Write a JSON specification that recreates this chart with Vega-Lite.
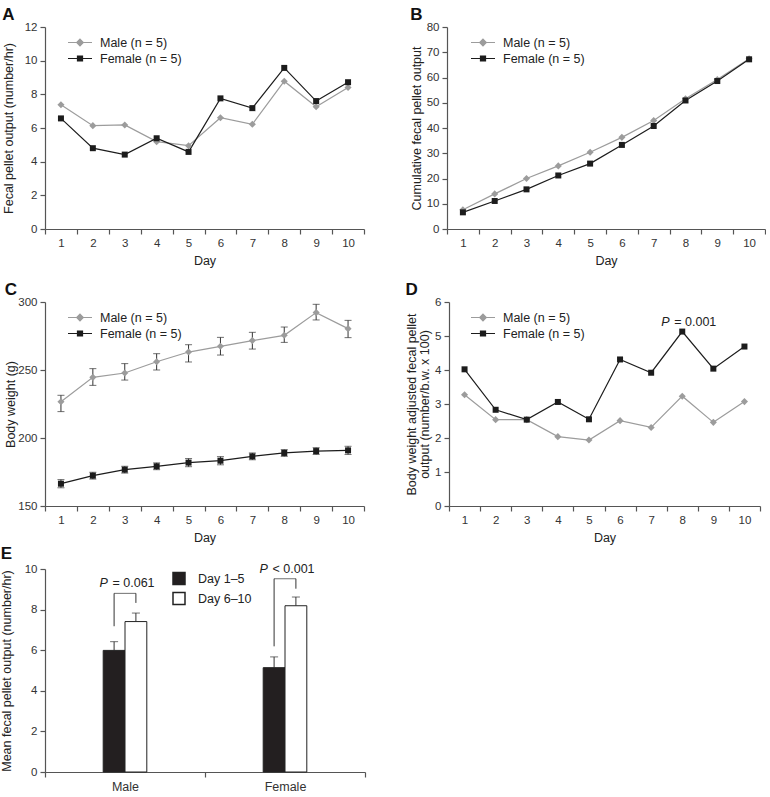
{
  "$schema": "https://vega.github.io/schema/vega-lite/v6.json",
  "padding": {"left": 0, "top": 6, "right": 0, "bottom": 0},
  "background": "white",
  "config": {
    "font": "Liberation Sans",
    "view": {"stroke": null},
    "axis": {"grid": false, "domainColor": "#555", "tickColor": "#555", "labelColor": "#333", "titleColor": "#222", "tickSize": 5, "labelFontSize": 11.5, "titleFontSize": 12.5, "titleFontWeight": "normal", "labelPadding": 3, "domainWidth": 1.2, "tickWidth": 1.2, "labelOverlap": false, "titlePadding": 3},
    "title": {"fontSize": 17, "fontWeight": "bold", "anchor": "start", "frame": "bounds", "color": "#111", "offset": -3},
    "legend": {"labelFontSize": 12.5, "labelColor": "#222", "padding": 0, "rowPadding": 2, "symbolSize": 144}
  },
  "resolve": {"scale": {"color": "independent", "fill": "independent"}, "legend": {"color": "independent", "fill": "independent"}},
  "datasets": {
    "A": [
      {"day": 1, "sex": "Male", "value": 7.38}, {"day": 2, "sex": "Male", "value": 6.14}, {"day": 3, "sex": "Male", "value": 6.18}, {"day": 4, "sex": "Male", "value": 5.19}, {"day": 5, "sex": "Male", "value": 4.95},
      {"day": 6, "sex": "Male", "value": 6.61}, {"day": 7, "sex": "Male", "value": 6.22}, {"day": 8, "sex": "Male", "value": 8.78}, {"day": 9, "sex": "Male", "value": 7.26}, {"day": 10, "sex": "Male", "value": 8.41},
      {"day": 1, "sex": "Female", "value": 6.57}, {"day": 2, "sex": "Female", "value": 4.8}, {"day": 3, "sex": "Female", "value": 4.42}, {"day": 4, "sex": "Female", "value": 5.39}, {"day": 5, "sex": "Female", "value": 4.58},
      {"day": 6, "sex": "Female", "value": 7.76}, {"day": 7, "sex": "Female", "value": 7.18}, {"day": 8, "sex": "Female", "value": 9.57}, {"day": 9, "sex": "Female", "value": 7.6}, {"day": 10, "sex": "Female", "value": 8.72}
    ],
    "B": [
      {"day": 1, "sex": "Male", "value": 7.6}, {"day": 2, "sex": "Male", "value": 13.9}, {"day": 3, "sex": "Male", "value": 20.0}, {"day": 4, "sex": "Male", "value": 25.0}, {"day": 5, "sex": "Male", "value": 30.4},
      {"day": 6, "sex": "Male", "value": 36.3}, {"day": 7, "sex": "Male", "value": 43.0}, {"day": 8, "sex": "Male", "value": 51.6}, {"day": 9, "sex": "Male", "value": 59.2}, {"day": 10, "sex": "Male", "value": 67.4},
      {"day": 1, "sex": "Female", "value": 6.6}, {"day": 2, "sex": "Female", "value": 11.1}, {"day": 3, "sex": "Female", "value": 15.7}, {"day": 4, "sex": "Female", "value": 21.2}, {"day": 5, "sex": "Female", "value": 25.9},
      {"day": 6, "sex": "Female", "value": 33.3}, {"day": 7, "sex": "Female", "value": 40.8}, {"day": 8, "sex": "Female", "value": 50.9}, {"day": 9, "sex": "Female", "value": 58.6}, {"day": 10, "sex": "Female", "value": 67.2}
    ],
    "C": [
      {"day": 1, "sex": "Male", "value": 226.7, "lo": 219.4, "hi": 231.4}, {"day": 2, "sex": "Male", "value": 244.6, "lo": 238.7, "hi": 251.0}, {"day": 3, "sex": "Male", "value": 247.8, "lo": 242.6, "hi": 254.7},
      {"day": 4, "sex": "Male", "value": 256.1, "lo": 250.0, "hi": 262.0}, {"day": 5, "sex": "Male", "value": 263.2, "lo": 255.9, "hi": 268.6}, {"day": 6, "sex": "Male", "value": 267.4, "lo": 261.0, "hi": 274.0},
      {"day": 7, "sex": "Male", "value": 271.6, "lo": 265.4, "hi": 277.7}, {"day": 8, "sex": "Male", "value": 275.5, "lo": 270.3, "hi": 281.6}, {"day": 9, "sex": "Male", "value": 292.2, "lo": 286.8, "hi": 298.3},
      {"day": 10, "sex": "Male", "value": 280.4, "lo": 273.8, "hi": 286.5},
      {"day": 1, "sex": "Female", "value": 166.4, "lo": 163.4, "hi": 169.4}, {"day": 2, "sex": "Female", "value": 172.3, "lo": 169.8, "hi": 174.8}, {"day": 3, "sex": "Female", "value": 176.7, "lo": 174.2, "hi": 179.2},
      {"day": 4, "sex": "Female", "value": 179.2, "lo": 176.7, "hi": 181.7}, {"day": 5, "sex": "Female", "value": 181.9, "lo": 178.9, "hi": 184.9}, {"day": 6, "sex": "Female", "value": 183.3, "lo": 180.3, "hi": 186.3},
      {"day": 7, "sex": "Female", "value": 186.5, "lo": 184.0, "hi": 189.0}, {"day": 8, "sex": "Female", "value": 189.0, "lo": 186.5, "hi": 191.5}, {"day": 9, "sex": "Female", "value": 190.4, "lo": 187.9, "hi": 192.9},
      {"day": 10, "sex": "Female", "value": 190.9, "lo": 187.9, "hi": 193.9}
    ],
    "D": [
      {"day": 1, "sex": "Male", "value": 3.27}, {"day": 2, "sex": "Male", "value": 2.54}, {"day": 3, "sex": "Male", "value": 2.54}, {"day": 4, "sex": "Male", "value": 2.04}, {"day": 5, "sex": "Male", "value": 1.94},
      {"day": 6, "sex": "Male", "value": 2.51}, {"day": 7, "sex": "Male", "value": 2.31}, {"day": 8, "sex": "Male", "value": 3.23}, {"day": 9, "sex": "Male", "value": 2.46}, {"day": 10, "sex": "Male", "value": 3.07},
      {"day": 1, "sex": "Female", "value": 4.02}, {"day": 2, "sex": "Female", "value": 2.83}, {"day": 3, "sex": "Female", "value": 2.54}, {"day": 4, "sex": "Female", "value": 3.06}, {"day": 5, "sex": "Female", "value": 2.55},
      {"day": 6, "sex": "Female", "value": 4.31}, {"day": 7, "sex": "Female", "value": 3.92}, {"day": 8, "sex": "Female", "value": 5.13}, {"day": 9, "sex": "Female", "value": 4.04}, {"day": 10, "sex": "Female", "value": 4.69}
    ],
    "DP": [{"day": 8, "value": 5.41, "p": "P", "rest": "= 0.001"}],
    "E": [
      {"group": "Male", "period": "Day 1–5", "mean": 5.99, "upper": 6.42},
      {"group": "Male", "period": "Day 6–10", "mean": 7.41, "upper": 7.83},
      {"group": "Female", "period": "Day 1–5", "mean": 5.14, "upper": 5.67},
      {"group": "Female", "period": "Day 6–10", "mean": 8.19, "upper": 8.62}
    ],
    "EB": [
      {"group": "Male", "period": "Day 1–5", "low": 7.18, "top": 8.8},
      {"group": "Male", "period": "Day 6–10", "low": 8.33, "top": 8.8},
      {"group": "Female", "period": "Day 1–5", "low": 6.19, "top": 9.52},
      {"group": "Female", "period": "Day 6–10", "low": 9.03, "top": 9.52}
    ],
    "ET": [
      {"group": "Male", "top": 8.8, "ty": 9.31, "p": "P", "rest": "= 0.061"},
      {"group": "Female", "top": 9.52, "ty": 10.0, "p": "P", "rest": "< 0.001"}
    ]
  },
  "columns": 1,
  "align": "none",
  "spacing": 1,
  "concat": [
    {
      "resolve": {"scale": {"color": "independent"}, "legend": {"color": "independent"}},
      "columns": 1,
      "align": "none",
      "spacing": 14,
      "concat": [
        {
          "resolve": {"scale": {"color": "independent"}, "legend": {"color": "independent"}},
          "hconcat": [
            {
              "title": {"text": "A"},
              "width": 319, "height": 202,
              "data": {"name": "A"},
              "encoding": {
                "x": {"field": "day", "type": "ordinal", "scale": {"type": "band", "paddingInner": 0, "paddingOuter": 0}, "axis": {"title": "Day", "tickBand": "extent", "labelAngle": 0, "titlePadding": 6}},
                "y": {"field": "value", "type": "quantitative", "scale": {"domain": [0, 12], "nice": false}, "axis": {"values": [0, 2, 4, 6, 8, 10, 12], "title": "Fecal pellet output (number/hr)", "titlePadding": 9}}
              },
              "layer": [
                {"mark": {"type": "line", "strokeWidth": 1.2},
                 "encoding": {"color": {"field": "sex", "type": "nominal", "scale": {"domain": ["Male", "Female"], "range": ["#9c9c9c", "#1c1c1c"]},
                   "legend": {"orient": "none", "legendX": 28, "legendY": 8.5, "title": null, "labelOffset": 13, "symbolStrokeWidth": 1.2, "labelExpr": "datum.value + ' (n = 5)'",
                     "encode": {"symbols": {"update": {
                       "shape": {"signal": "datum.value === 'Male' ? 'M-2,0H2M0,-0.55L0.55,0L0,0.55L-0.55,0Z' : 'M-2,0H2M-0.42,-0.42H0.42V0.42H-0.42Z'"},
                       "fill": {"signal": "datum.value === 'Male' ? '#9c9c9c' : '#1c1c1c'"},
                       "stroke": {"signal": "datum.value === 'Male' ? '#9c9c9c' : '#1c1c1c'"}}}}}}}},
                {"transform": [{"filter": "datum.sex === 'Male'"}], "mark": {"type": "point", "shape": "diamond", "filled": true, "opacity": 1, "color": "#9c9c9c", "size": 50}, "encoding": {}},
                {"transform": [{"filter": "datum.sex === 'Female'"}], "mark": {"type": "point", "shape": "square", "filled": true, "opacity": 1, "color": "#1c1c1c", "size": 36}, "encoding": {}}
              ]
            },
            {
              "title": {"text": "B"},
              "width": 318, "height": 202,
              "data": {"name": "B"},
              "encoding": {
                "x": {"field": "day", "type": "ordinal", "scale": {"type": "band", "paddingInner": 0, "paddingOuter": 0}, "axis": {"title": "Day", "tickBand": "extent", "labelAngle": 0, "titlePadding": 6}},
                "y": {"field": "value", "type": "quantitative", "scale": {"domain": [0, 80], "nice": false}, "axis": {"values": [0, 10, 20, 30, 40, 50, 60, 70, 80], "title": "Cumulative fecal pellet output"}}
              },
              "layer": [
                {"mark": {"type": "line", "strokeWidth": 1.2},
                 "encoding": {"color": {"field": "sex", "type": "nominal", "scale": {"domain": ["Male", "Female"], "range": ["#9c9c9c", "#1c1c1c"]},
                   "legend": {"orient": "none", "legendX": 29, "legendY": 8.5, "title": null, "labelOffset": 13, "symbolStrokeWidth": 1.2, "labelExpr": "datum.value + ' (n = 5)'",
                     "encode": {"symbols": {"update": {
                       "shape": {"signal": "datum.value === 'Male' ? 'M-2,0H2M0,-0.55L0.55,0L0,0.55L-0.55,0Z' : 'M-2,0H2M-0.42,-0.42H0.42V0.42H-0.42Z'"},
                       "fill": {"signal": "datum.value === 'Male' ? '#9c9c9c' : '#1c1c1c'"},
                       "stroke": {"signal": "datum.value === 'Male' ? '#9c9c9c' : '#1c1c1c'"}}}}}}}},
                {"transform": [{"filter": "datum.sex === 'Male'"}], "mark": {"type": "point", "shape": "diamond", "filled": true, "opacity": 1, "color": "#9c9c9c", "size": 50}, "encoding": {}},
                {"transform": [{"filter": "datum.sex === 'Female'"}], "mark": {"type": "point", "shape": "square", "filled": true, "opacity": 1, "color": "#1c1c1c", "size": 36}, "encoding": {}}
              ]
            }
          ],
          "spacing": 45
        },
        {
          "resolve": {"scale": {"color": "independent"}, "legend": {"color": "independent"}},
          "hconcat": [
            {
              "title": {"text": "C"},
              "width": 319, "height": 204,
              "data": {"name": "C"},
              "encoding": {
                "x": {"field": "day", "type": "ordinal", "scale": {"type": "band", "paddingInner": 0, "paddingOuter": 0}, "axis": {"title": "Day", "tickBand": "extent", "labelAngle": 0, "titlePadding": 6}},
                "y": {"field": "value", "type": "quantitative", "scale": {"domain": [150, 300], "nice": false}, "axis": {"values": [150, 200, 250, 300], "title": "Body weight (g)", "titlePadding": 0}}
              },
              "layer": [
                {"mark": {"type": "rule", "strokeWidth": 1, "color": "#333"},
                 "encoding": {"y": {"field": "lo", "type": "quantitative", "scale": {"domain": [150, 300], "nice": false}, "axis": {"values": [150, 200, 250, 300], "title": "Body weight (g)", "titlePadding": 0}}, "y2": {"field": "hi"}}},
                {"mark": {"type": "tick", "size": 7, "thickness": 1, "color": "#333"},
                 "encoding": {"y": {"field": "lo", "type": "quantitative", "scale": {"domain": [150, 300], "nice": false}, "axis": {"values": [150, 200, 250, 300], "title": "Body weight (g)", "titlePadding": 0}}}},
                {"mark": {"type": "tick", "size": 7, "thickness": 1, "color": "#333"},
                 "encoding": {"y": {"field": "hi", "type": "quantitative", "scale": {"domain": [150, 300], "nice": false}, "axis": {"values": [150, 200, 250, 300], "title": "Body weight (g)", "titlePadding": 0}}}},
                {"mark": {"type": "line", "strokeWidth": 1.2},
                 "encoding": {
                   "color": {"field": "sex", "type": "nominal", "scale": {"domain": ["Male", "Female"], "range": ["#9c9c9c", "#1c1c1c"]},
                   "legend": {"orient": "none", "legendX": 28, "legendY": 8.5, "title": null, "labelOffset": 13, "symbolStrokeWidth": 1.2, "labelExpr": "datum.value + ' (n = 5)'",
                     "encode": {"symbols": {"update": {
                       "shape": {"signal": "datum.value === 'Male' ? 'M-2,0H2M0,-0.55L0.55,0L0,0.55L-0.55,0Z' : 'M-2,0H2M-0.42,-0.42H0.42V0.42H-0.42Z'"},
                       "fill": {"signal": "datum.value === 'Male' ? '#9c9c9c' : '#1c1c1c'"},
                       "stroke": {"signal": "datum.value === 'Male' ? '#9c9c9c' : '#1c1c1c'"}}}}}}}},
                {"transform": [{"filter": "datum.sex === 'Male'"}], "mark": {"type": "point", "shape": "diamond", "filled": true, "opacity": 1, "color": "#9c9c9c", "size": 50}, "encoding": {}},
                {"transform": [{"filter": "datum.sex === 'Female'"}], "mark": {"type": "point", "shape": "square", "filled": true, "opacity": 1, "color": "#1c1c1c", "size": 36}, "encoding": {}}
              ]
            },
            {
              "title": {"text": "D"},
              "width": 311, "height": 204,
              "encoding": {
                "x": {"field": "day", "type": "ordinal", "scale": {"type": "band", "paddingInner": 0, "paddingOuter": 0}, "axis": {"title": "Day", "tickBand": "extent", "labelAngle": 0, "titlePadding": 6}},
                "y": {"field": "value", "type": "quantitative", "scale": {"domain": [0, 6], "nice": false}, "axis": {"values": [0, 1, 2, 3, 4, 5, 6], "title": ["Body weight adjusted fecal pellet", "output  (number/b.w. x 100)"], "titleLineHeight": 13}}
              },
              "layer": [
                {"data": {"name": "D"}, "mark": {"type": "line", "strokeWidth": 1.2},
                 "encoding": {
                   "color": {"field": "sex", "type": "nominal", "scale": {"domain": ["Male", "Female"], "range": ["#9c9c9c", "#1c1c1c"]},
                   "legend": {"orient": "none", "legendX": 27, "legendY": 8.5, "title": null, "labelOffset": 13, "symbolStrokeWidth": 1.2, "labelExpr": "datum.value + ' (n = 5)'",
                     "encode": {"symbols": {"update": {
                       "shape": {"signal": "datum.value === 'Male' ? 'M-2,0H2M0,-0.55L0.55,0L0,0.55L-0.55,0Z' : 'M-2,0H2M-0.42,-0.42H0.42V0.42H-0.42Z'"},
                       "fill": {"signal": "datum.value === 'Male' ? '#9c9c9c' : '#1c1c1c'"},
                       "stroke": {"signal": "datum.value === 'Male' ? '#9c9c9c' : '#1c1c1c'"}}}}}}}},
                {"data": {"name": "D"}, "transform": [{"filter": "datum.sex === 'Male'"}], "mark": {"type": "point", "shape": "diamond", "filled": true, "opacity": 1, "color": "#9c9c9c", "size": 50}, "encoding": {}},
                {"data": {"name": "D"}, "transform": [{"filter": "datum.sex === 'Female'"}], "mark": {"type": "point", "shape": "square", "filled": true, "opacity": 1, "color": "#1c1c1c", "size": 36}, "encoding": {}},
                {"data": {"name": "DP"}, "mark": {"type": "text", "fontStyle": "italic", "align": "left", "baseline": "middle", "dx": -21, "fontSize": 12.5, "color": "#222"},
                 "encoding": {"text": {"field": "p"}}},
                {"data": {"name": "DP"}, "mark": {"type": "text", "align": "left", "baseline": "middle", "dx": -8, "fontSize": 12.5, "color": "#222"},
                 "encoding": {"text": {"field": "rest"}}}
              ]
            }
          ],
          "spacing": 40
        }
      ]
    },
    {
      "title": {"text": "E", "offset": 0},
      "width": 320, "height": 203,
      "encoding": {
        "x": {"field": "group", "type": "nominal", "sort": ["Male", "Female"], "scale": {"type": "band", "paddingInner": 0, "paddingOuter": 0}, "axis": {"title": null, "tickBand": "extent", "labelAngle": 0, "labelFontSize": 12.5}}
      },
      "layer": [
        {"data": {"name": "E"}, "mark": {"type": "rule", "strokeWidth": 1, "color": "#333"},
         "encoding": {
           "xOffset": {"field": "period", "type": "nominal", "scale": {"domain": ["p1", "p2", "Day 1–5", "Day 6–10", "p3", "p4"], "paddingInner": 0, "paddingOuter": 0.67}},
           "y": {"field": "mean", "type": "quantitative", "scale": {"domain": [0, 10], "nice": false}, "axis": {"values": [0, 2, 4, 6, 8, 10], "title": "Mean fecal pellet output (number/hr)", "titlePadding": 10.5}},
           "y2": {"field": "upper"}}},
        {"data": {"name": "E"}, "mark": {"type": "tick", "size": 8, "thickness": 1, "color": "#333"},
         "encoding": {
           "xOffset": {"field": "period", "type": "nominal"},
           "y": {"field": "upper", "type": "quantitative", "axis": {"values": [0, 2, 4, 6, 8, 10], "title": "Mean fecal pellet output (number/hr)", "titlePadding": 10.5}}}},
        {"data": {"name": "E"}, "mark": {"type": "bar", "stroke": "#222", "strokeWidth": 1},
         "encoding": {
           "xOffset": {"field": "period", "type": "nominal"},
           "y": {"field": "mean", "type": "quantitative", "axis": {"values": [0, 2, 4, 6, 8, 10], "title": "Mean fecal pellet output (number/hr)", "titlePadding": 10.5}},
           "fill": {"field": "period", "type": "nominal", "scale": {"domain": ["Day 1–5", "Day 6–10"], "range": ["#231f20", "#ffffff"]},
             "legend": {"orient": "none", "legendX": 127, "legendY": 2.5, "title": null, "labelOffset": 12,
               "encode": {"symbols": {"update": {
                 "shape": {"value": "M-1.4,-0.83H1.4V0.83H-1.4Z"},
                 "stroke": {"value": "#222"}, "strokeWidth": {"value": 1}}}}}}}},
        {"data": {"name": "EB"}, "mark": {"type": "rule", "strokeWidth": 1, "color": "#333"},
         "encoding": {
           "xOffset": {"field": "period", "type": "nominal"},
           "y": {"field": "low", "type": "quantitative", "axis": {"values": [0, 2, 4, 6, 8, 10], "title": "Mean fecal pellet output (number/hr)", "titlePadding": 10.5}}, "y2": {"field": "top"}}},
        {"data": {"name": "ET"}, "mark": {"type": "tick", "size": 22, "thickness": 1, "color": "#333"},
         "encoding": {"y": {"field": "top", "type": "quantitative", "axis": {"values": [0, 2, 4, 6, 8, 10], "title": "Mean fecal pellet output (number/hr)", "titlePadding": 10.5}}}},
        {"data": {"name": "ET"}, "mark": {"type": "text", "fontStyle": "italic", "align": "left", "baseline": "middle", "dx": -25.5, "fontSize": 12.5, "color": "#222"},
         "encoding": {"y": {"field": "ty", "type": "quantitative", "axis": {"values": [0, 2, 4, 6, 8, 10], "title": "Mean fecal pellet output (number/hr)", "titlePadding": 10.5}}, "text": {"field": "p"}}},
        {"data": {"name": "ET"}, "mark": {"type": "text", "align": "left", "baseline": "middle", "dx": -12.5, "fontSize": 12.5, "color": "#222"},
         "encoding": {"y": {"field": "ty", "type": "quantitative", "axis": {"values": [0, 2, 4, 6, 8, 10], "title": "Mean fecal pellet output (number/hr)", "titlePadding": 10.5}}, "text": {"field": "rest"}}}
      ]
    }
  ]
}
